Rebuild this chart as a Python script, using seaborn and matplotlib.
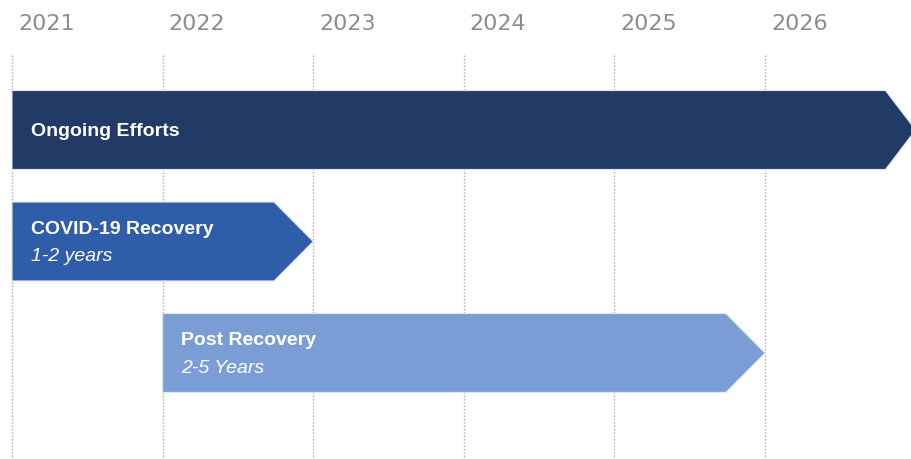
import matplotlib
matplotlib.use("Agg")
import matplotlib.pyplot as plt
import seaborn as sns

# ---- data ----
years = [2021, 2022, 2023, 2024, 2025, 2026]
phases = ["Ongoing Efforts", "COVID-19 Recovery", "Post Recovery"]
subtitles = ["", "1-2 years", "2-5 Years"]
starts = [2021.0, 2021.0, 2022.0]
ends = [2027.0, 2023.0, 2026.0]

# ---- style ----
colors = ["#213A66", "#2F5DA9", "#7B9DD6"]
head_len = [0.2, 0.26, 0.26]
half_h = 0.354

sns.set_theme(style="white")
plt.rcParams["font.family"] = ["Liberation Sans", "DejaVu Sans"]

fig = plt.figure(figsize=(9.12, 4.59), dpi=100)
ax = fig.add_axes([0, 0, 1, 1])
x0 = 2021 - 12 / 150.6
ax.set_xlim(x0, x0 + 912 / 150.6)
ax.set_ylim(2.951, -1.166)
ax.axis("off")

# gridlines
for yr in years:
    ax.plot([yr, yr], [-0.673, 2.951], color="#b5b5b5", lw=1.0,
            ls=(0, (1.2, 1.2)), zorder=0)
    ax.text(yr + 0.04, -0.948, str(yr), ha="left", va="center",
            fontsize=16, color="#8c8c8c", family=["DejaVu Sans"])

title_kw = dict(ha="left", va="center", color="white", fontsize=14,
                fontweight="bold", family=["Liberation Sans", "DejaVu Sans"],
                zorder=3)
for i, (name, sub, s, e) in enumerate(zip(phases, subtitles, starts, ends)):
    sh = e - head_len[i]
    xs = [s, sh, e, sh, s]
    ys = [i - half_h, i - half_h, i, i + half_h, i + half_h]
    ax.fill(xs, ys, color=colors[i], zorder=2, lw=0.8, edgecolor="#dfe6f2")
    tx = s + 0.125
    if sub:
        ax.text(tx, i - 0.11, name, **title_kw)
        ax.text(tx, i + 0.135, sub, ha="left", va="center", color="white",
                fontsize=14, style="italic", zorder=3)
    else:
        ax.text(tx, i + 0.015, name, **title_kw)

fig.savefig("out.png", dpi=100)
